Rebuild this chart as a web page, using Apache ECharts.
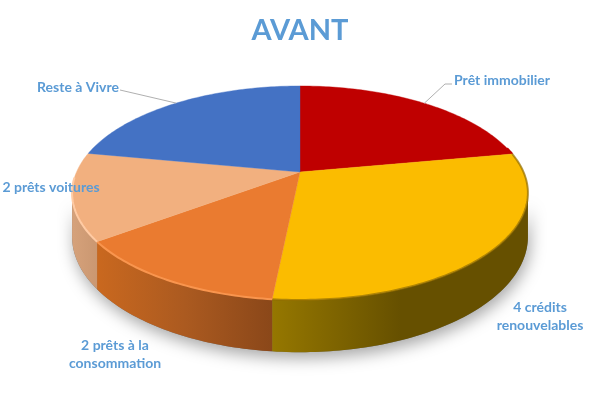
<!DOCTYPE html>
<html><head><meta charset="utf-8">
<script src="https://cdn.jsdelivr.net/npm/echarts@6/dist/echarts.min.js"></script>
<style>html,body{margin:0;padding:0;background:#fff}#c{width:600px;height:400px}</style>
</head><body><div id="c"></div>
<script>
const titleText = "AVANT";
const categories = ["Prêt immobilier", "4 crédits\nrenouvelables", "2 prêts à la\nconsommation", "2 prêts voitures", "Reste à Vivre"];
const values = [22.1, 29.5, 13.2, 13.2, 22.0];

const topColors = ["#bf0000", "#fbbc00", "#ea7b30", "#f2b07f", "#4472c4"];
const wallStops = [
  null,
  {x: 273, x2: 528, stops: [[0, "#957700"], [0.5, "#665000"], [1, "#665000"]]},
  {x: 98, x2: 273, stops: [[0, "#c9681f"], [0.5, "#ab5a20"], [1, "#8a4719"]]},
  {x: 71, x2: 100, stops: [[0, "#d6a27b"], [1, "#c99670"]]},
  null
];
const rimColors = ["#bf0000", "rgba(140,105,0,0.65)", "#f9954e", "#ffcba4", "#4472c4"];
const labelAnchors = [[502, 80], [540, 316], [115, 354], [51, 187], [78, 87]];
const leaderElbows = [[[452, 84], [445, 84]], null, null, null, [[120, 90]]];

const CX = 300, CY = 172, A = 223.5, B = 102.9, K = 0.196, D = 42;
const total = values.reduce((a, b) => a + b, 0);
const starts = [];
values.reduce((acc, v, i) => { starts[i] = acc; return acc + v; }, 0);
const toDeg = v => v / total * 360;
function project(deg) {
  const r = deg * Math.PI / 180, u = Math.sin(r), v = -Math.cos(r), t = 1 / (1 - K * v);
  return [CX + A * u * t, CY + B * v * t, D * t];
}
function arc(a, b) {
  const pts = [], n = Math.max(2, Math.ceil(Math.abs(b - a)));
  for (let i = 0; i <= n; i++) pts.push(project(a + (b - a) * i / n));
  return pts;
}
const WALL_A = 101, WALL_B = 259;
function wallPoly(a, b) {
  const p = arc(a, b);
  return p.map(q => [q[0], q[1]]).concat(p.slice().reverse().map(q => [q[0], q[1] + q[2]]));
}
function grad(g) {
  return {type: "linear", global: true, x: g.x, y: 0, x2: g.x2, y2: 0,
    colorStops: g.stops.map(s => ({offset: s[0], color: s[1]}))};
}
const seriesData = values.map((v, i) => ({value: v, name: categories[i]}));

const option = {
  backgroundColor: "#ffffff",
  animation: false,
  title: {text: titleText, left: "center", top: 11,
    textStyle: {fontFamily: "Lato", fontWeight: "bold", fontSize: 29, color: "#5b9bd5"}},
  series: [
    {type: "custom", coordinateSystem: "none", silent: true, z: 1, data: [0],
      renderItem: () => ({type: "polygon", shape: {points: wallPoly(WALL_A, WALL_B)},
        style: {fill: "#777", shadowBlur: 16, shadowColor: "rgba(0,0,0,0.35)", shadowOffsetX: 2, shadowOffsetY: 6}})},
    {type: "custom", coordinateSystem: "none", silent: true, z: 2, data: seriesData,
      renderItem: (params) => {
        const i = params.dataIndex, a = toDeg(starts[i]), b = a + toDeg(values[i]);
        const from = Math.max(a, WALL_A), to = Math.min(b, WALL_B);
        if (to <= from || !wallStops[i]) return {type: "group", children: []};
        return {type: "polygon", shape: {points: wallPoly(from, to)}, style: {fill: grad(wallStops[i])}};
      }},
    {type: "custom", coordinateSystem: "none", silent: true, z: 3, data: seriesData,
      renderItem: (params) => {
        const i = params.dataIndex, a = toDeg(starts[i]), b = a + toDeg(values[i]);
        const p = arc(a, b).map(q => [q[0], q[1]]);
        const children = [{type: "polygon", shape: {points: [[CX, CY]].concat(p)},
          style: {fill: topColors[i], stroke: topColors[i], lineWidth: 0.4}}];
        const from = Math.max(a, WALL_A - 25), to = Math.min(b, WALL_B + 8);
        if (to > from) children.push({type: "polyline",
          shape: {points: arc(from, to).map(q => [q[0], q[1]])},
          style: {fill: null, stroke: rimColors[i], lineWidth: 2}});
        return {type: "group", children};
      }},
    {type: "custom", coordinateSystem: "none", silent: true, z: 4, data: seriesData,
      renderItem: (params) => {
        const i = params.dataIndex, a = toDeg(starts[i]), b = a + toDeg(values[i]);
        const children = [{type: "text", style: {text: categories[i],
          x: labelAnchors[i][0], y: labelAnchors[i][1], align: "center", verticalAlign: "middle",
          fontFamily: "Lato", fontWeight: "bold", fontSize: 14, lineHeight: 18, fill: "#5b9bd5"}}];
        if (leaderElbows[i]) {
          const m = project((a + b) / 2);
          children.push({type: "polyline", shape: {points: leaderElbows[i].concat([[m[0], m[1]]])},
            style: {fill: null, stroke: "#b0b0b0", lineWidth: 1}});
        }
        return {type: "group", children};
      }}
  ]
};
echarts.init(document.getElementById("c"), null, {renderer: "canvas"}).setOption(option);
</script></body></html>
